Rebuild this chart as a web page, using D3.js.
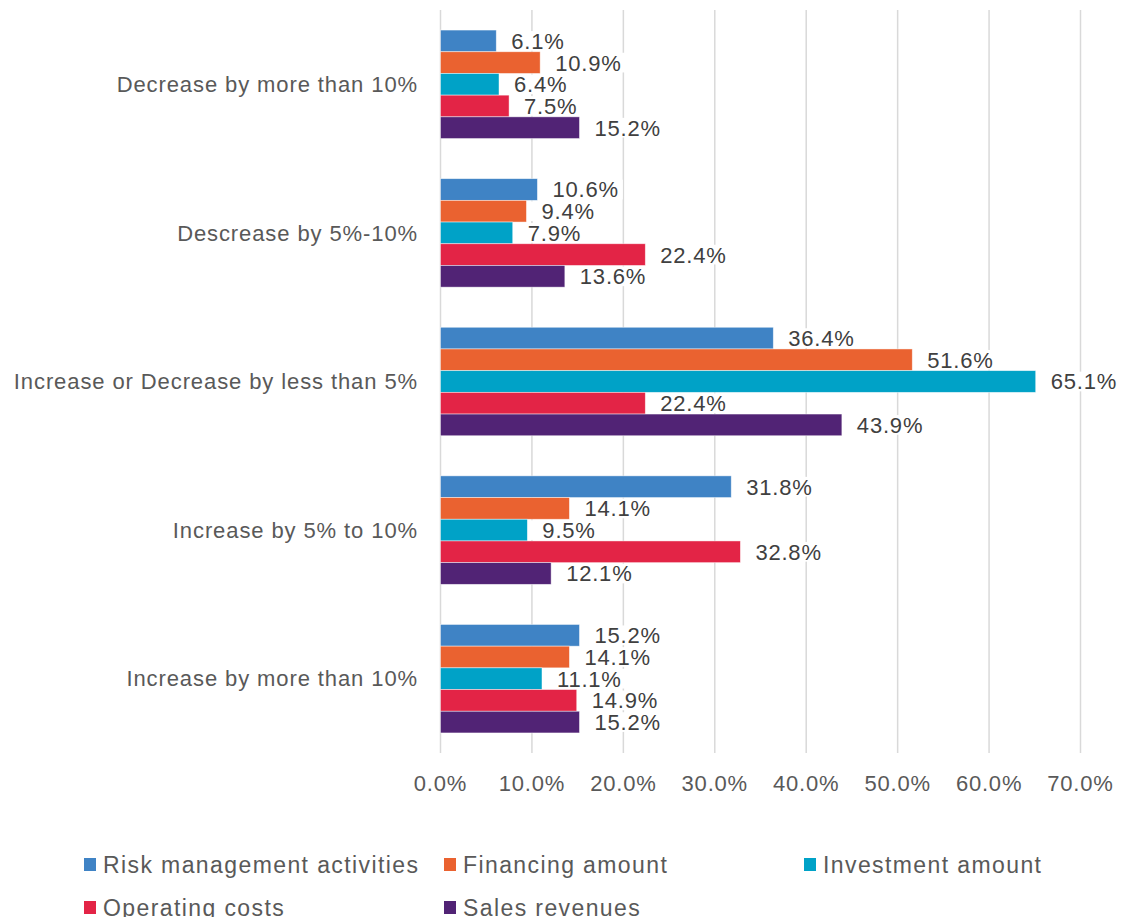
<!DOCTYPE html>
<html>
<head>
<meta charset="utf-8">
<script src="https://cdn.jsdelivr.net/npm/d3@7"></script>
<style>
  body { margin: 0; background: #fff; }
  text { font-family: "Liberation Sans", Arial, sans-serif; }
</style>
</head>
<body>
<script>
var categories = ['Decrease by more than 10%', 'Descrease by 5%-10%', 'Increase or Decrease by less than 5%', 'Increase by 5% to 10%', 'Increase by more than 10%'];
var seriesNames = ['Risk management activities', 'Financing amount', 'Investment amount', 'Operating costs', 'Sales revenues'];
var riskValues = [6.1, 10.6, 36.4, 31.8, 15.2];
var financingValues = [10.9, 9.4, 51.6, 14.1, 14.1];
var investmentValues = [6.4, 7.9, 65.1, 9.5, 11.1];
var operatingValues = [7.5, 22.4, 22.4, 32.8, 14.9];
var salesValues = [15.2, 13.6, 43.9, 12.1, 15.2];
var colors = ['#3f83c5', '#ea6230', '#00a2c7', '#e32446', '#512375'];
var tickValues = [0, 10, 20, 30, 40, 50, 60, 70];

var allSeries = [riskValues, financingValues, investmentValues, operatingValues, salesValues];

var width = 1122, height = 917;
var svg = d3.select('body').append('svg')
    .attr('width', width)
    .attr('height', height);

var x = d3.scaleLinear().domain([0, 70]).range([440.5, 1080.5]);
var y = d3.scaleBand().domain(categories).range([10, 753])
    .paddingInner(0.27).paddingOuter(0.135);
var ySub = d3.scaleBand().domain(d3.range(seriesNames.length)).range([0, y.bandwidth()]);

// gridlines
svg.append('g').selectAll('line')
    .data(tickValues)
    .enter().append('line')
    .attr('x1', function(d) { return x(d); })
    .attr('x2', function(d) { return x(d); })
    .attr('y1', 10)
    .attr('y2', 753)
    .attr('stroke', '#d9d9d9')
    .attr('stroke-width', 1.5);

// tick labels
svg.append('g').selectAll('text')
    .data(tickValues)
    .enter().append('text')
    .attr('x', function(d) { return x(d); })
    .attr('y', 791)
    .attr('text-anchor', 'middle')
    .attr('font-size', '22px')
    .attr('letter-spacing', '0.8px')
    .attr('fill', '#595959')
    .text(function(d) { return d.toFixed(1) + '%'; });

// category labels
svg.append('g').selectAll('text')
    .data(categories)
    .enter().append('text')
    .attr('x', 418)
    .attr('y', function(d) { return y(d) + y.bandwidth() / 2; })
    .attr('dy', '0.35em')
    .attr('text-anchor', 'end')
    .attr('font-size', '22px')
    .attr('letter-spacing', '0.9px')
    .attr('fill', '#595959')
    .text(function(d) { return d; });

var groups = svg.append('g').selectAll('g')
    .data(categories)
    .enter().append('g')
    .attr('transform', function(d) { return 'translate(0,' + y(d) + ')'; });

groups.selectAll('rect')
    .data(function(d, i) { return allSeries.map(function(s, k) { return {k: k, v: s[i]}; }); })
    .enter().append('rect')
    .attr('x', x(0))
    .attr('y', function(d) { return ySub(d.k); })
    .attr('width', function(d) { return x(d.v) - x(0); })
    .attr('height', ySub.bandwidth())
    .attr('fill', function(d) { return colors[d.k]; })
    .attr('stroke', '#ffffff')
    .attr('stroke-opacity', 0.6)
    .attr('stroke-width', 0.75);

// value labels with white box behind
var labels = groups.selectAll('g.lbl')
    .data(function(d, i) { return allSeries.map(function(s, k) { return {k: k, v: s[i]}; }); })
    .enter().append('g').attr('class', 'lbl');

labels.append('rect')
    .attr('fill', '#ffffff');

labels.append('text')
    .attr('x', function(d) { return x(d.v) + 15; })
    .attr('y', function(d) { return ySub(d.k) + ySub.bandwidth() / 2; })
    .attr('dy', '0.36em')
    .attr('font-size', '22px')
    .attr('letter-spacing', '0.8px')
    .attr('fill', '#404040')
    .text(function(d) { return d.v.toFixed(1) + '%'; });

labels.each(function(d) {
  var g = d3.select(this);
  var len = g.select('text').node().getComputedTextLength();
  g.select('rect')
    .attr('x', x(d.v) + 1)
    .attr('y', ySub(d.k) + 1)
    .attr('width', len + 18)
    .attr('height', ySub.bandwidth() - 2);
});

// legend
var legendPos = [[84, 865], [444, 865], [804, 865], [84, 908], [444, 908]];
var legend = svg.append('g').selectAll('g')
    .data(seriesNames)
    .enter().append('g')
    .attr('transform', function(d, i) { return 'translate(' + legendPos[i] + ')'; });

legend.append('rect')
    .attr('x', 0)
    .attr('y', -7)
    .attr('width', 12)
    .attr('height', 13)
    .attr('fill', function(d, i) { return colors[i]; });

legend.append('text')
    .attr('x', 19)
    .attr('y', 0)
    .attr('dy', '0.35em')
    .attr('font-size', '23px')
    .attr('letter-spacing', '1.4px')
    .attr('fill', '#595959')
    .text(function(d) { return d; });
</script>
</body>
</html>
